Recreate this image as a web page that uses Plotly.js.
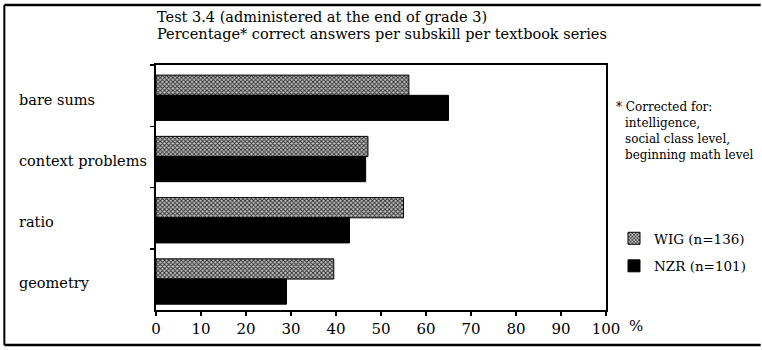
<!DOCTYPE html>
<html>
<head>
<meta charset="utf-8">
<script src="https://cdn.plot.ly/plotly-3.0.1.min.js"></script>
<style>
  html, body { margin: 0; padding: 0; background: #fff; }
  #chart { width: 762px; height: 350px; }
</style>
</head>
<body>
<div id="chart"></div>
<script>
// ---- data ----
const categories = ["bare sums", "context problems", "ratio", "geometry"];
const wigValues = [56.2, 47.1, 55.0, 39.5];
const nzrValues = [65.0, 46.6, 43.0, 29.0];
const seriesNames = ["WIG (n=136)", "NZR (n=101)"];
const xTickValues = [0, 10, 20, 30, 40, 50, 60, 70, 80, 90, 100];
const titleLines = ["Test 3.4 (administered at the end of grade 3)",
                    "Percentage* correct answers per subskill per textbook series"];
const footnoteLines = ["* Corrected for:", "intelligence,", "social class level,", "beginning math level"];

const SERIF = "DejaVu Serif, Liberation Serif, serif";

// plot area in pixels: x 156..607, y 65..310
const PX = function (px) { return (px - 156) / 451; };
const PY = function (py) { return (310 - py) / 245; };

const traces = [
  {
    type: "bar", orientation: "h",
    name: seriesNames[0], legendgroup: "a",
    y: categories, x: wigValues,
    offset: -0.335, width: 0.33,
    marker: {
      color: "#bdbdbd",
      line: { color: "#000", width: 1 },
      pattern: { shape: "x", size: 3, solidity: 0.5, fgcolor: "#2a2a2a", bgcolor: "#c4c4c4" }
    },
    hoverinfo: "x+name"
  },
  {
    type: "bar", orientation: "h",
    name: seriesNames[1], legendgroup: "b",
    y: categories, x: nzrValues,
    offset: -0.005, width: 0.41,
    marker: { color: "#000", line: { color: "#000", width: 1 } },
    hoverinfo: "x+name"
  }
];

const annotations = [];
const titleY = [17, 34];
titleLines.forEach(function (t, i) {
  annotations.push({
    xref: "paper", yref: "paper", x: PX(155), y: PY(titleY[i]),
    xanchor: "left", yanchor: "middle", text: t, showarrow: false,
    font: { family: SERIF, size: 14.5, color: "#000" }
  });
});
categories.forEach(function (c) {
  annotations.push({
    xref: "paper", yref: "y", x: PX(17), y: c, xanchor: "left", yanchor: "middle",
    yshift: -4, text: c, showarrow: false,
    font: { family: SERIF, size: 14.5, color: "#000" }
  });
});
const footY = [107, 123, 139, 155];
footnoteLines.forEach(function (t, i) {
  annotations.push({
    xref: "paper", yref: "paper",
    x: i === 0 ? PX(615) : PX(624),
    y: PY(footY[i]),
    xanchor: "left", yanchor: "middle", text: t, showarrow: false,
    font: { family: SERIF, size: 12, color: "#000" }
  });
});
annotations.push({
  xref: "paper", yref: "paper", x: PX(628), y: PY(326),
  xanchor: "left", yanchor: "middle", text: "%", showarrow: false,
  font: { family: SERIF, size: 15, color: "#000" }
});

const shapes = [
  { type: "line", xref: "paper", yref: "paper", x0: PX(4), x1: PX(762),
    y0: PY(5), y1: PY(5), line: { color: "#000", width: 2.5 } },
  { type: "line", xref: "paper", yref: "paper", x0: PX(4), x1: PX(762),
    y0: PY(345), y1: PY(345), line: { color: "#000", width: 2.5 } },
  { type: "line", xref: "paper", yref: "paper", x0: PX(4), x1: PX(4),
    y0: PY(5), y1: PY(345), line: { color: "#000", width: 2 } }
];

const layout = {
  width: 762, height: 350,
  margin: { l: 156, r: 155, t: 65, b: 40, pad: 0 },
  paper_bgcolor: "#fff", plot_bgcolor: "#fff",
  barmode: "overlay",
  showlegend: true,
  xaxis: {
    range: [0, 100], tickvals: xTickValues, ticktext: xTickValues.map(String),
    showgrid: false, zeroline: false,
    showline: true, linecolor: "#000", linewidth: 2, mirror: true,
    ticks: "outside", ticklen: 4, tickwidth: 1.5, tickcolor: "#000",
    tickfont: { family: SERIF, size: 15, color: "#000" },
    fixedrange: true
  },
  yaxis: {
    type: "category", categoryorder: "array", categoryarray: categories,
    range: [3.5, -0.5],
    showgrid: false, zeroline: false, showticklabels: false,
    showline: true, linecolor: "#000", linewidth: 2, mirror: true,
    ticks: "outside", tickson: "boundaries", ticklen: 4, tickwidth: 1.5, tickcolor: "#000",
    fixedrange: true
  },
  legend: {
    x: PX(614), xanchor: "left",
    y: PY(223), yanchor: "top",
    traceorder: "grouped", tracegroupgap: 7,
    font: { family: SERIF, size: 13.5, color: "#000" },
    bgcolor: "rgba(0,0,0,0)", borderwidth: 0
  },
  annotations: annotations,
  shapes: shapes
};

Plotly.newPlot("chart", traces, layout, { displayModeBar: false, staticPlot: true });
</script>
</body>
</html>
